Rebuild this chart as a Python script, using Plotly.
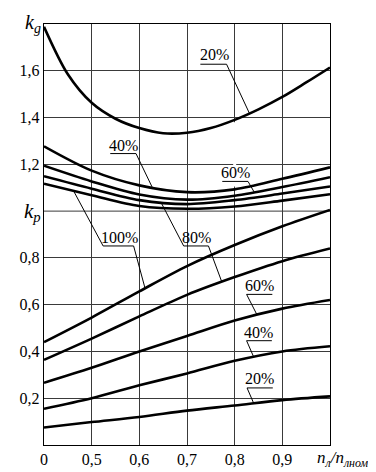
import numpy as np
import plotly.graph_objects as go

# ---------------- data ----------------
x_rel = [0.4, 0.5, 0.6, 0.7, 0.8, 0.9, 1.0]
x_kg20 = [0.4, 0.45, 0.5, 0.55, 0.6, 0.65, 0.7, 0.75, 0.8, 0.85, 0.9, 0.95, 1.0]

kg_20 = [1.788, 1.585, 1.463, 1.395, 1.355, 1.333, 1.335, 1.355, 1.39, 1.435, 1.488, 1.55, 1.614]
kg_40 = [1.277, 1.173, 1.110, 1.081, 1.093, 1.138, 1.187]
kg_60 = [1.194, 1.127, 1.071, 1.049, 1.066, 1.103, 1.145]
kg_80 = [1.149, 1.096, 1.047, 1.030, 1.047, 1.075, 1.105]
kg_100 = [1.117, 1.068, 1.022, 1.010, 1.020, 1.045, 1.072]

kp_100 = [0.440, 0.545, 0.657, 0.765, 0.855, 0.935, 1.005]
kp_80 = [0.364, 0.455, 0.550, 0.642, 0.718, 0.786, 0.840]
kp_60 = [0.266, 0.330, 0.400, 0.466, 0.532, 0.583, 0.620]
kp_40 = [0.155, 0.200, 0.255, 0.306, 0.360, 0.400, 0.422]
kp_20 = [0.075, 0.098, 0.120, 0.147, 0.169, 0.192, 0.208]

x_ticks = [0.4, 0.5, 0.6, 0.7, 0.8, 0.9]
x_ticktext = ["0", "0,5", "0,6", "0,7", "0,8", "0,9"]
y_ticks = [0.2, 0.4, 0.6, 0.8, 1.2, 1.4, 1.6]
y_ticktext = ["0,2", "0,4", "0,6", "0,8", "1,2", "1,4", "1,6"]
kp_level = 1.0

FONT = "'Liberation Serif', 'DejaVu Serif', serif"
GRID = "#3a3a3a"

fig = go.Figure()
series = [
    (x_kg20, kg_20), (x_rel, kg_40), (x_rel, kg_60), (x_rel, kg_80), (x_rel, kg_100),
    (x_rel, kp_100), (x_rel, kp_80), (x_rel, kp_60), (x_rel, kp_40), (x_rel, kp_20),
]
for xs, ys in series:
    fig.add_trace(go.Scatter(x=xs, y=ys, mode="lines",
                             line=dict(color="black", width=2.6, shape="spline", smoothing=0.9),
                             hoverinfo="skip", showlegend=False))


def on(xs, ys, xv):
    return float(np.interp(xv, xs, ys))


shapes = []
annotations = []


def lbl(text, xc, yc):
    annotations.append(dict(x=xc, y=yc, xref="x", yref="y", text=text, showarrow=False,
                            font=dict(family=FONT, size=16, color="black"),
                            xanchor="center", yanchor="middle", yshift=2))


def path(points):
    d = "M " + " L ".join(f"{px},{py}" for px, py in points)
    shapes.append(dict(type="path", path=d, xref="x", yref="y",
                       line=dict(color="black", width=1), layer="above"))


# grid line at k_p = 1.0 (no numeric tick label there)
shapes.append(dict(type="line", x0=x_rel[0], x1=x_rel[-1], xref="x", y0=kp_level, y1=kp_level,
                   yref="y", line=dict(color=GRID, width=1), layer="between"))

# kg labels (leader from right end of underline down to curve)
lbl("20%", 0.757, 1.661)
path([(0.728, 1.628), (0.783, 1.628), (0.831, on(x_kg20, kg_20, 0.831))])
lbl("40%", 0.566, 1.273)
path([(0.539, 1.246), (0.593, 1.246), (0.627, on(x_rel, kg_40, 0.627))])
lbl("60%", 0.801, 1.158)
path([(0.774, 1.127), (0.828, 1.127), (0.841, on(x_rel, kg_60, 0.841))])

# shared labels 100% and 80%
lbl("100%", 0.558, 0.879)
path([(0.462, on(x_rel, kg_100, 0.462)), (0.524, 0.851), (0.588, 0.851),
      (0.612, on(x_rel, kp_100, 0.612))])
lbl("80%", 0.719, 0.879)
path([(0.645, on(x_rel, kg_80, 0.645)), (0.693, 0.851), (0.745, 0.851),
      (0.773, on(x_rel, kp_80, 0.773))])

# kp labels (leader from left end of underline)
lbl("60%", 0.852, 0.674)
path([(0.879, 0.644), (0.825, 0.644), (0.847, on(x_rel, kp_60, 0.847))])
lbl("40%", 0.851, 0.473)
path([(0.878, 0.446), (0.825, 0.446), (0.840, on(x_rel, kp_40, 0.840))])
lbl("20%", 0.853, 0.274)
path([(0.880, 0.244), (0.826, 0.244), (0.840, on(x_rel, kp_20, 0.840))])

# gap in 0.8 grid line
shapes.append(dict(type="line", x0=0.8, x1=0.8, y0=1.105, y1=1.38, xref="x", yref="y",
                   line=dict(color="white", width=3), layer="between"))

# axis name labels
annotations.append(dict(x=0.4, y=1.8, xref="x", yref="y", xanchor="right", yanchor="middle",
                        xshift=-1, yshift=1, showarrow=False,
                        text="<i>k</i><sub><i>g</i></sub>",
                        font=dict(family=FONT, size=20, color="black")))
annotations.append(dict(x=0.4, y=1.0, xref="x", yref="y", xanchor="right", yanchor="middle",
                        xshift=-1, yshift=-1, showarrow=False,
                        text="<i>k</i><sub><i>p</i></sub>",
                        font=dict(family=FONT, size=21, color="black")))
annotations.append(dict(x=1.0, y=0, xref="x", yref="paper", xanchor="left", yanchor="top",
                        xshift=-15, yshift=-1, showarrow=False,
                        text="<i>n</i><sub><i>л</i></sub><i>/n</i><sub><i>лном</i></sub>",
                        font=dict(family=FONT, size=17, color="black")))
annotations.append(dict(x=1.0, y=1.47, xref="x", yref="y", xanchor="center", yanchor="middle",
                        xshift=42, showarrow=False, text="-",
                        font=dict(family=FONT, size=13, color="#333")))

fig.update_layout(
    width=376, height=472,
    margin=dict(l=31, r=54, t=16, b=25),
    paper_bgcolor="white", plot_bgcolor="white",
    shapes=shapes, annotations=annotations,
    xaxis=dict(range=[0.4, 1.0], tickvals=x_ticks, ticktext=x_ticktext,
               showgrid=True, gridcolor=GRID, gridwidth=1,
               showline=True, linecolor="black", linewidth=1.4, mirror=True,
               zeroline=False, ticks="", tickfont=dict(family=FONT, size=16, color="black")),
    yaxis=dict(range=[0, 1.8], tickvals=y_ticks, ticktext=y_ticktext,
               showgrid=True, gridcolor=GRID, gridwidth=1,
               showline=True, linecolor="black", linewidth=1.4, mirror=True,
               zeroline=False, ticks="", tickfont=dict(family=FONT, size=16, color="black")),
)

fig.write_html("out.html")
